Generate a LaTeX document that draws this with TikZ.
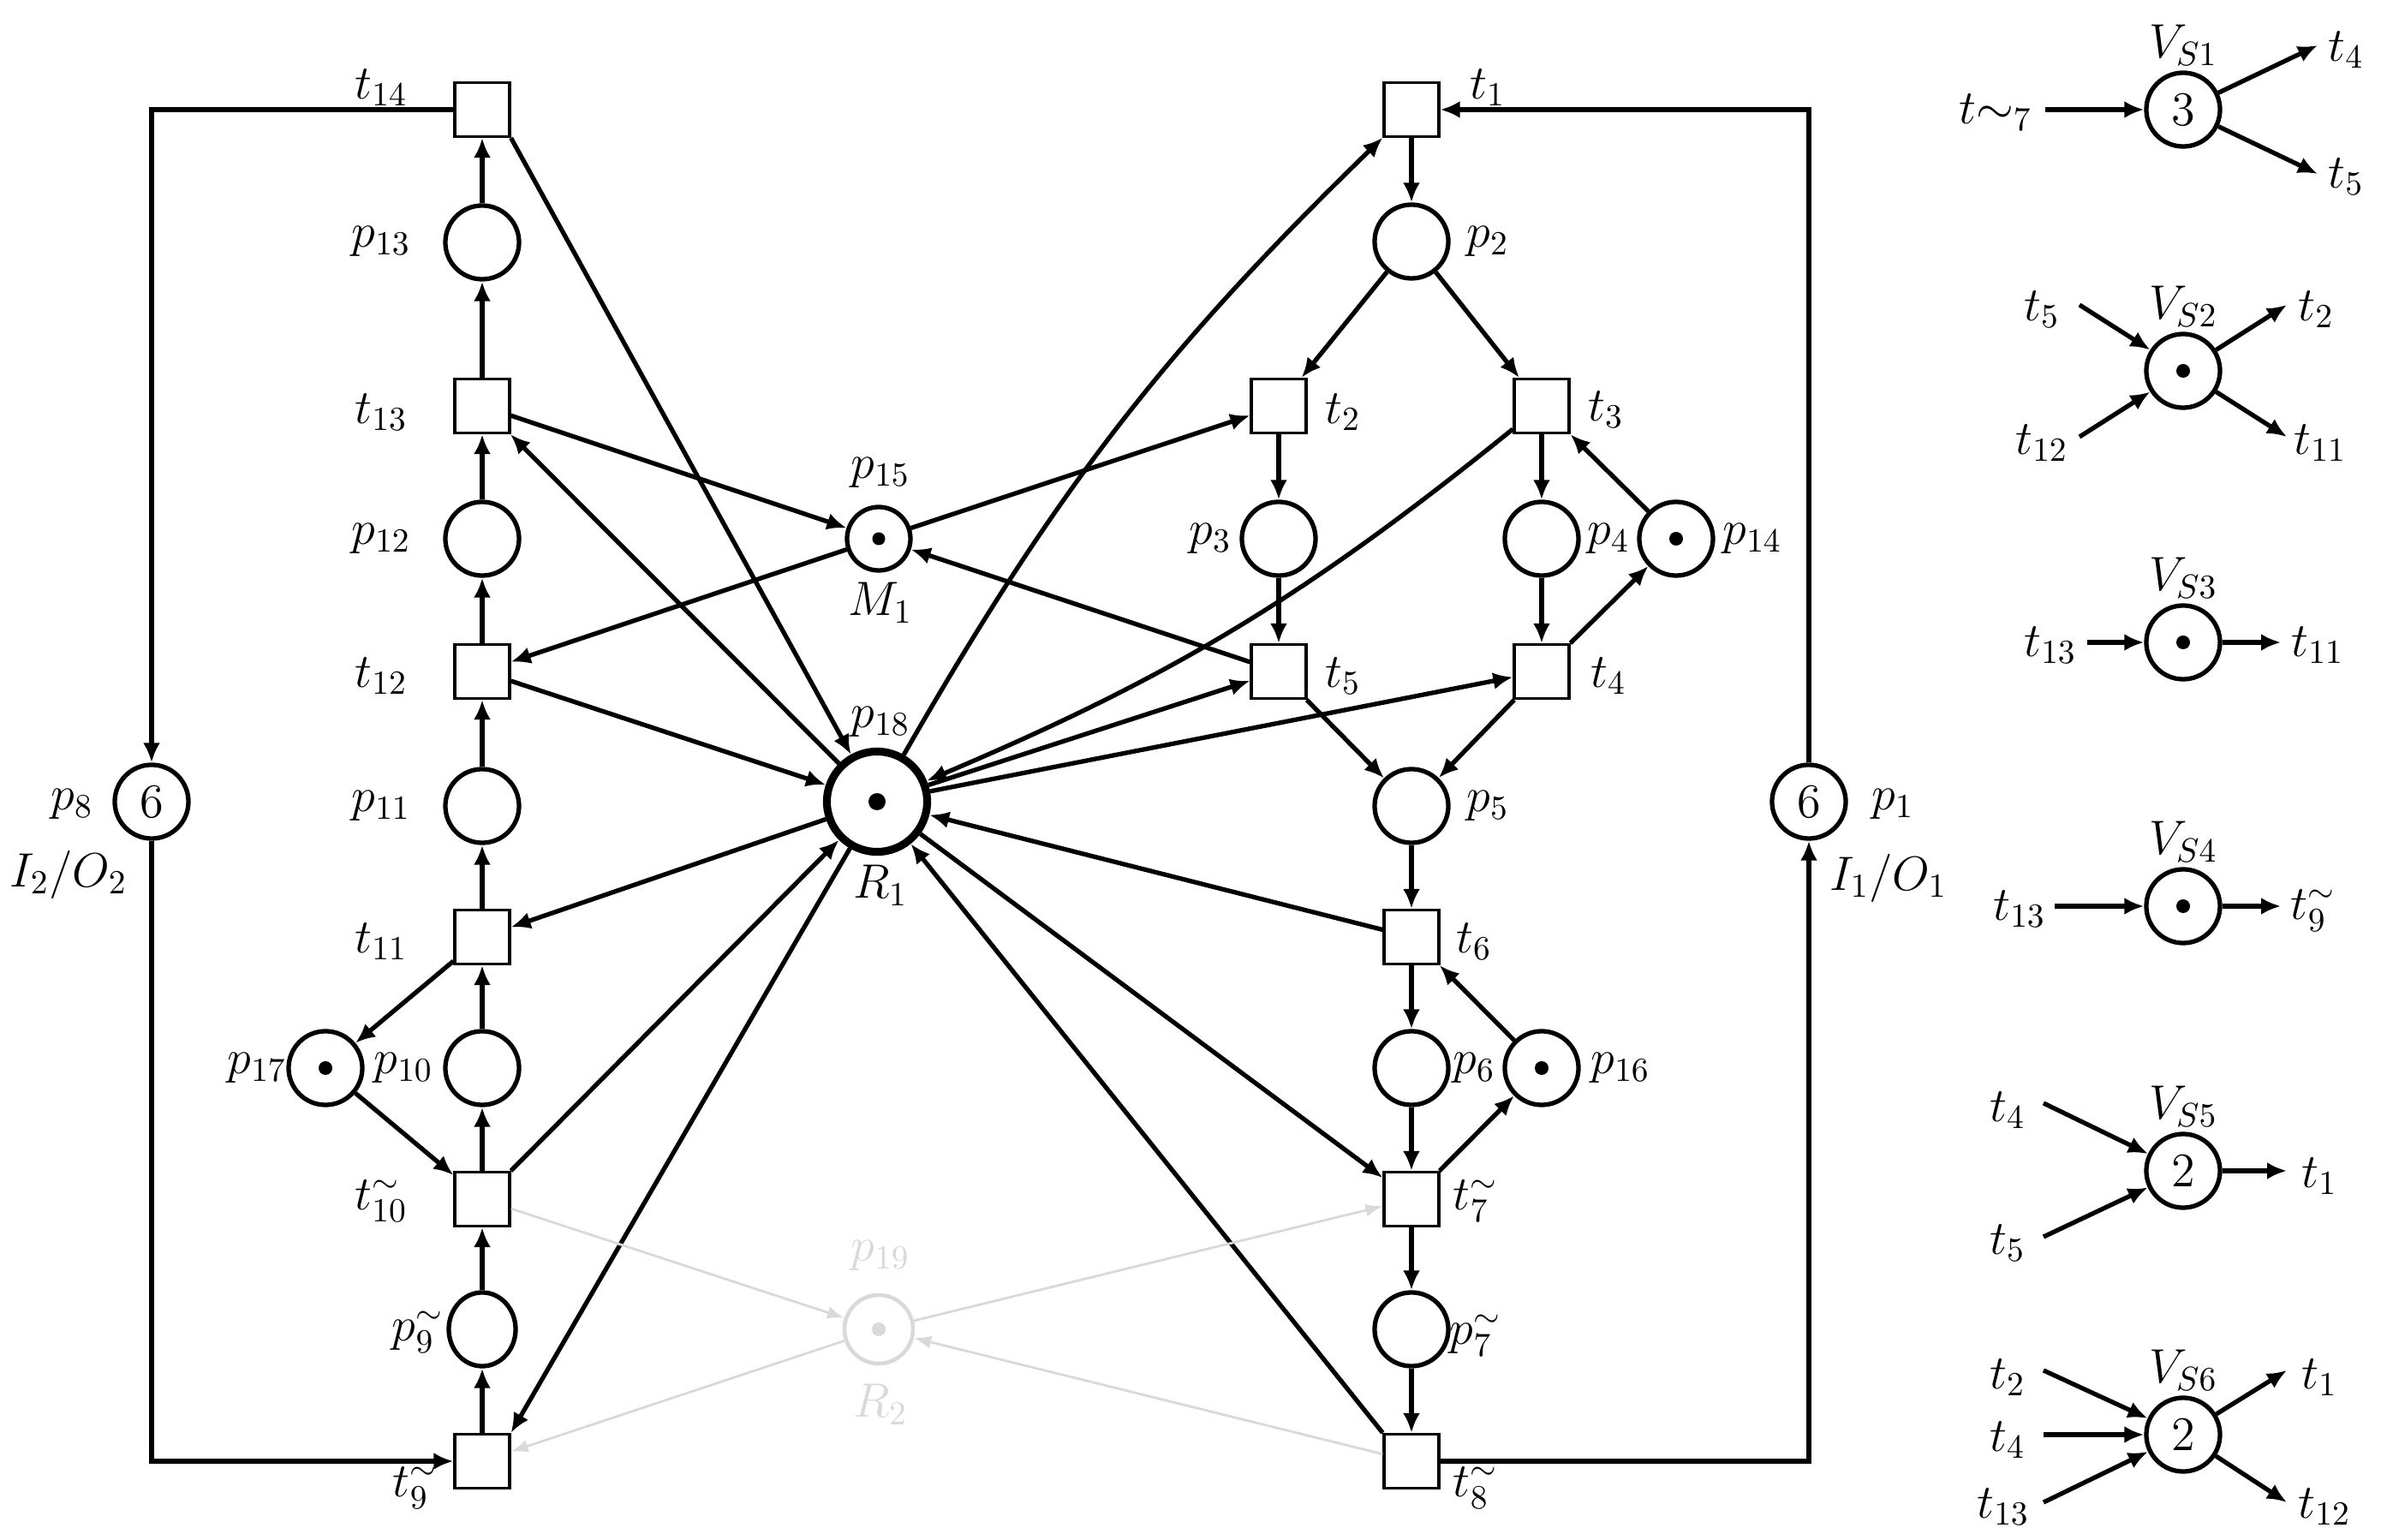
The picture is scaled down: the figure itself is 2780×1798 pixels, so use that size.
\documentclass[tikz,border=0pt]{standalone}
\usepackage{fix-cm}
\usetikzlibrary{arrows.meta,shapes.geometric}
\begin{document}
\begin{tikzpicture}[x=0.01cm,y=-0.01cm,
  every node/.style={font=\fontsize{16}{19}\selectfont},
  pl/.style={circle,draw,line width=1.5pt,minimum size=0.86cm,inner sep=0pt},
  tr/.style={rectangle,draw,line width=0.9pt,minimum width=0.64cm,minimum height=0.63cm,inner sep=0pt},
  arc/.style={line width=1.5pt,-{Latex[length=0.23cm,width=0.2cm]}},
  garc/.style={line width=0.8pt,black!15,-{Latex[length=0.2cm,width=0.15cm]}},
  tok/.style={circle,fill,inner sep=0pt,minimum size=0.16cm},
  lbl/.style={inner sep=0pt}]
\useasboundingbox (0,0) rectangle (2780,1798);
% left column
\node[tr] (t14) at (563,128) {};
\node[pl] (p13) at (563,283) {};
\node[tr] (t13) at (563,474) {};
\node[pl] (p12) at (563,629) {};
\node[tr] (t12) at (563,784) {};
\node[pl] (p11) at (563,941) {};
\node[tr] (t11) at (563,1094) {};
\node[pl] (p10) at (563,1247) {};
\node[tr] (t10) at (563,1400) {};
\node[ellipse,draw,line width=1.5pt,minimum width=0.78cm,minimum height=0.86cm,inner sep=0pt] (p9) at (563,1552) {};
\node[tr] (t9) at (563,1706) {};
\node[pl] (p17) at (380,1247) {}; \node[tok] at (p17) {};
% center
\node[pl,minimum size=0.74cm] (p15) at (1026,629) {}; \node[tok,minimum size=0.15cm] at (p15) {};
\node[pl,minimum size=1.17cm,line width=2.6pt] (p18) at (1024,936) {}; \node[tok,minimum size=0.2cm] at (p18) {};
\node[pl,minimum size=0.8cm,draw=black!15,line width=1.3pt] (p19) at (1026,1552) {}; \node[tok,fill=black!15] at (p19) {};
% right column
\node[tr] (t1) at (1648,128) {};
\node[pl] (p2) at (1648,282) {};
\node[tr] (t2) at (1493,474) {};
\node[tr] (t3) at (1800,474) {};
\node[pl] (p3) at (1493,629) {};
\node[pl] (p4) at (1800,629) {};
\node[pl] (p14) at (1957,629) {}; \node[tok] at (p14) {};
\node[tr] (t5) at (1493,784) {};
\node[tr] (t4) at (1800,784) {};
\node[pl] (p5) at (1648,941) {};
\node[tr] (t6) at (1648,1094) {};
\node[pl] (p6) at (1648,1247) {};
\node[pl] (p16) at (1800,1247) {}; \node[tok] at (p16) {};
\node[tr] (t7) at (1648,1400) {};
\node[pl] (p7) at (1648,1552) {};
\node[tr] (t8) at (1648,1706) {};
\node[pl] (p8) at (177,936) {$6$};
\node[pl] (p1) at (2112,936) {$6$};
% labels
\node[lbl] at (445,102) {$t_{14}$};
\node[lbl] at (445,282) {$p_{13}$};
\node[lbl] at (445,481) {$t_{13}$};
\node[lbl] at (445,629) {$p_{12}$};
\node[lbl] at (445,789) {$t_{12}$};
\node[lbl] at (445,941) {$p_{11}$};
\node[lbl] at (445,1099) {$t_{11}$};
\node[lbl] at (471,1247) {$p_{10}$};
\node[lbl] at (445,1402) {$t_{10}^{\sim}$};
\node[lbl] at (488,1555) {$p_{9}^{\sim}$};
\node[lbl] at (485,1737) {$t_{9}^{\sim}$};
\node[lbl] at (300,1247) {$p_{17}$};
\node[lbl] at (1028,552) {$p_{15}$};
\node[lbl] at (1028,704) {$M_1$};
\node[lbl] at (1028,843) {$p_{18}$};
\node[lbl] at (1028,1034) {$R_1$};
\node[lbl,text=black!15] at (1028,1466) {$p_{19}$};
\node[lbl,text=black!15] at (1028,1640) {$R_2$};
\node[lbl] at (84,939) {$p_8$};
\node[lbl] at (80,1021) {$I_2/O_2$};
\node[lbl] at (2210,939) {$p_1$};
\node[lbl] at (2205,1025) {$I_1/O_1$};
\node[lbl] at (1737,102) {$t_1$};
\node[lbl] at (1737,282) {$p_2$};
\node[lbl] at (1568,481) {$t_2$};
\node[lbl] at (1875,478) {$t_3$};
\node[lbl] at (1413,629) {$p_3$};
\node[lbl] at (1878,629) {$p_4$};
\node[lbl] at (2046,629) {$p_{14}$};
\node[lbl] at (1568,789) {$t_5$};
\node[lbl] at (1878,789) {$t_4$};
\node[lbl] at (1737,941) {$p_5$};
\node[lbl] at (1721,1099) {$t_6$};
\node[lbl] at (1721,1247) {$p_6$};
\node[lbl] at (1892,1247) {$p_{16}$};
\node[lbl] at (1723,1402) {$t_7^{\sim}$};
\node[lbl] at (1723,1559) {$p_7^{\sim}$};
\node[lbl] at (1723,1737) {$t_8^{\sim}$};
% left chain
\draw[arc] (t9) -- (p9);
\draw[arc] (p9) -- (t10);
\draw[arc] (t10) -- (p10);
\draw[arc] (p10) -- (t11);
\draw[arc] (t11) -- (p11);
\draw[arc] (p11) -- (t12);
\draw[arc] (t12) -- (p12);
\draw[arc] (p12) -- (t13);
\draw[arc] (t13) -- (p13);
\draw[arc] (p13) -- (t14);
\draw[arc] (t11) -- (p17);
\draw[arc] (p17) -- (t10);
% center arcs
\draw[arc] (t14.south east) -- (p18);
\draw[arc] (p18) -- (t13);
\draw[arc] (t13) -- (p15);
\draw[arc] (p15) -- (t12);
\draw[arc] (t12) -- (p18);
\draw[arc] (p18) -- (t11);
\draw[arc] (t10.north east) -- (p18);
\draw[arc] (p18) -- (t9.north east);
\draw[arc] (p15) -- (t2);
\draw[arc] (p18) to[bend left=8] (t1);
\draw[arc] (t3) to[bend left=8] (p18);
\draw[arc] (p18) -- (t5);
\draw[arc] (p18) -- (t4);
\draw[arc] (t5) -- (p15);
\draw[arc] (t6) -- (p18);
\draw[arc] (p18) -- (t7);
\draw[arc] (t8.north west) -- (p18);
\draw[garc] (t10) -- (p19);
\draw[garc] (p19) -- (t7);
\draw[garc] (t8) -- (p19);
\draw[garc] (p19) -- (t9);
% right chain
\draw[arc] (t1) -- (p2);
\draw[arc] (p2) -- (t2);
\draw[arc] (p2) -- (t3);
\draw[arc] (t2) -- (p3);
\draw[arc] (t3) -- (p4);
\draw[arc] (p3) -- (t5);
\draw[arc] (p4) -- (t4);
\draw[arc] (t4) -- (p14);
\draw[arc] (p14) -- (t3);
\draw[arc] (t5) -- (p5);
\draw[arc] (t4) -- (p5);
\draw[arc] (p5) -- (t6);
\draw[arc] (t6) -- (p6);
\draw[arc] (p6) -- (t7);
\draw[arc] (t7) -- (p16);
\draw[arc] (p16) -- (t6);
\draw[arc] (t7) -- (p7);
\draw[arc] (p7) -- (t8);
% feedback
\draw[arc] (t14.west) -| (p8);
\draw[arc] (p8) |- (t9.west);
\draw[arc] (t8.east) -| (p1);
\draw[arc] (p1) |- (t1.east);
% legend
\node[pl] (v1) at (2549,128) {$3$};
\node[lbl] at ([yshift=0.75cm]v1) {$V_{S1}$};
\coordinate (v1i) at ([xshift=-1.61cm]v1); \coordinate (v1a) at ([shift={(1.57cm,0.75cm)}]v1); \coordinate (v1b) at ([shift={(1.57cm,-0.75cm)}]v1);
\node[lbl] at ([shift={(-2.19cm,-0.03cm)}]v1) {$t{\sim}_7$};
\node[lbl] at ([shift={(1.9cm,0.7cm)}]v1) {$t_4$};
\node[lbl] at ([shift={(1.9cm,-0.78cm)}]v1) {$t_5$};
\draw[arc] (v1i) -- (v1); \draw[arc] (v1) -- (v1a); \draw[arc] (v1) -- (v1b);

\node[pl] (v2) at (2549,433) {}; \node[tok] at (v2) {};
\node[lbl] at ([yshift=0.75cm]v2) {$V_{S2}$};
\coordinate (v2i) at ([shift={(-1.21cm,0.77cm)}]v2); \coordinate (v2j) at ([shift={(-1.21cm,-0.77cm)}]v2);
\coordinate (v2a) at ([shift={(1.21cm,0.77cm)}]v2); \coordinate (v2b) at ([shift={(1.21cm,-0.77cm)}]v2);
\node[lbl] at ([shift={(-1.65cm,0.72cm)}]v2) {$t_5$}; \node[lbl] at ([shift={(-1.65cm,-0.84cm)}]v2) {$t_{12}$};
\node[lbl] at ([shift={(1.55cm,0.72cm)}]v2) {$t_2$}; \node[lbl] at ([shift={(1.6cm,-0.84cm)}]v2) {$t_{11}$};
\draw[arc] (v2i) -- (v2); \draw[arc] (v2j) -- (v2); \draw[arc] (v2) -- (v2a); \draw[arc] (v2) -- (v2b);

\node[pl] (v3) at (2549,750) {}; \node[tok] at (v3) {};
\node[lbl] at ([yshift=0.75cm]v3) {$V_{S3}$};
\coordinate (v3i) at ([xshift=-1.12cm]v3); \coordinate (v3a) at ([xshift=1.14cm]v3);
\node[lbl] at ([shift={(-1.55cm,-0.03cm)}]v3) {$t_{13}$}; \node[lbl] at ([shift={(1.57cm,-0.03cm)}]v3) {$t_{11}$};
\draw[arc] (v3i) -- (v3); \draw[arc] (v3) -- (v3a);

\node[pl] (v4) at (2549,1058) {}; \node[tok] at (v4) {};
\node[lbl] at ([yshift=0.75cm]v4) {$V_{S4}$};
\coordinate (v4i) at ([xshift=-1.5cm]v4); \coordinate (v4a) at ([xshift=1.14cm]v4);
\node[lbl] at ([shift={(-1.91cm,-0.03cm)}]v4) {$t_{13}$}; \node[lbl] at ([shift={(1.52cm,-0.05cm)}]v4) {$t_9^{\sim}$};
\draw[arc] (v4i) -- (v4); \draw[arc] (v4) -- (v4a);

\node[pl] (v5) at (2549,1367) {$2$};
\node[lbl] at ([yshift=0.75cm]v5) {$V_{S5}$};
\coordinate (v5i) at ([shift={(-1.63cm,0.79cm)}]v5); \coordinate (v5j) at ([shift={(-1.63cm,-0.77cm)}]v5); \coordinate (v5a) at ([xshift=1.21cm]v5);
\node[lbl] at ([shift={(-2.05cm,0.71cm)}]v5) {$t_4$}; \node[lbl] at ([shift={(-2.05cm,-0.84cm)}]v5) {$t_5$}; \node[lbl] at ([shift={(1.59cm,-0.06cm)}]v5) {$t_1$};
\draw[arc] (v5i) -- (v5); \draw[arc] (v5j) -- (v5); \draw[arc] (v5) -- (v5a);

\node[pl] (v6) at (2549,1675) {$2$};
\node[lbl] at ([yshift=0.75cm]v6) {$V_{S6}$};
\coordinate (v6i) at ([shift={(-1.63cm,0.75cm)}]v6); \coordinate (v6j) at ([xshift=-1.63cm]v6); \coordinate (v6k) at ([shift={(-1.63cm,-0.79cm)}]v6);
\coordinate (v6a) at ([shift={(1.21cm,0.75cm)}]v6); \coordinate (v6b) at ([shift={(1.21cm,-0.79cm)}]v6);
\node[lbl] at ([shift={(-2.05cm,0.67cm)}]v6) {$t_2$}; \node[lbl] at ([shift={(-2.05cm,-0.06cm)}]v6) {$t_4$}; \node[lbl] at ([shift={(-2.1cm,-0.84cm)}]v6) {$t_{13}$};
\node[lbl] at ([shift={(1.59cm,0.67cm)}]v6) {$t_1$}; \node[lbl] at ([shift={(1.65cm,-0.84cm)}]v6) {$t_{12}$};
\draw[arc] (v6i) -- (v6); \draw[arc] (v6j) -- (v6); \draw[arc] (v6k) -- (v6); \draw[arc] (v6) -- (v6a); \draw[arc] (v6) -- (v6b);
\end{tikzpicture}
\end{document}
